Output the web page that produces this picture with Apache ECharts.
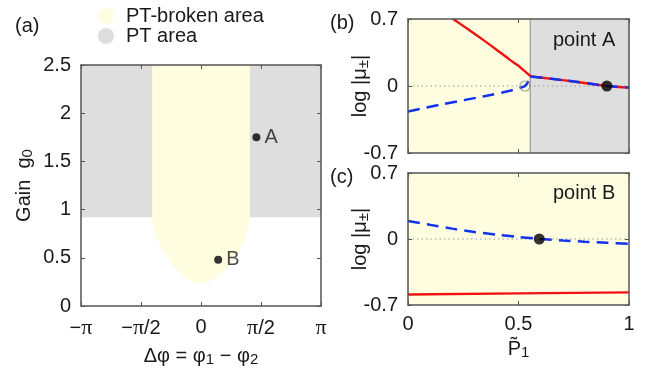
<!DOCTYPE html>
<html>
<head>
<meta charset="utf-8">
<script src="https://cdn.jsdelivr.net/npm/echarts@6/dist/echarts.min.js"></script>
<style>html,body{margin:0;padding:0;background:#fff}#c{width:647px;height:375px}</style>
</head>
<body>
<div id="c"></div>
<script>
// ---------- data ----------
const PI = Math.PI;
const phaseTickLabels = ['−π', '−π/2', '0', 'π/2', 'π'];
const gainMin = 0, gainMax = 2.5;
const ptGainThreshold = 0.92;
const brokenHalfWidth = 1.28;
const uBoundaryPhase = [-1.28, -1.255, -1.21, -1.01, -0.70, -0.43, -0.2, 0, 0.2, 0.43, 0.70, 1.01, 1.21, 1.255, 1.28];
const uBoundaryGain  = [0.92, 0.85, 0.754, 0.581, 0.408, 0.304, 0.248, 0.232, 0.248, 0.304, 0.408, 0.581, 0.754, 0.85, 0.92];
const pointA = [1.45, 1.75];
const pointB = [0.45, 0.48];

const exceptionalP = 0.553;
const branchPoint = [0.554, 0.10];
const bRedUpperP = [0.204, 0.27, 0.34, 0.402, 0.461, 0.497, 0.521, 0.538, 0.548];
const bRedUpperV = [0.70, 0.596, 0.482, 0.377, 0.273, 0.216, 0.169, 0.135, 0.115];
const bBlueLowerP = [0, 0.144, 0.34, 0.461, 0.505, 0.529, 0.543, 0.55];
const bBlueLowerV = [-0.266, -0.196, -0.109, -0.05, -0.022, 0, 0.04, 0.075];
const bMergedP = [0.65, 0.75, 0.85, 0.9, 1.0];
const bMergedV = [0.075, 0.047, 0.016, 0, -0.017];
const bOpenPoint = [0.529, 0];
const bDot = [0.9, 0];

const cBlueP = [0, 0.1, 0.2, 0.3, 0.4, 0.5, 0.6, 0.7, 0.8, 0.9, 1.0];
const cBlueV = [0.19, 0.15, 0.11, 0.075, 0.047, 0.022, 0.0, -0.016, -0.029, -0.04, -0.05];
const cRedP  = [0, 0.5, 1];
const cRedV  = [-0.588, -0.577, -0.566];
const cDot = [0.594, 0];

// ---------- styles ----------
const FONT = 'Liberation Sans';
const SERIF = 'Liberation Serif';
const YELLOW = '#fefde0', GRAY = '#dedede', RED = '#f01212', BLUE = '#1232ee';
const FRAME = '#555', TXT = '#1a1a1a';

const zip = (xs, ys) => xs.map((x, i) => [x, ys[i]]);
const uPts = zip(uBoundaryPhase.map(p => p / PI), uBoundaryGain);
const yellowPoly = [[-brokenHalfWidth / PI, gainMax]].concat(uPts, [[brokenHalfWidth / PI, gainMax]]);
const grayPoly = [[-1, ptGainThreshold], [1, ptGainThreshold], [1, gainMax], [-1, gainMax]];

function region(name, color, pts, xi, yi) {
  return {
    type: 'custom', name: name, coordinateSystem: 'cartesian2d', xAxisIndex: xi, yAxisIndex: yi,
    silent: true, z: 1, itemStyle: { color: color }, data: [pts[0]],
    renderItem: function (params, api) {
      return { type: 'polygon', shape: { points: pts.map(p => api.coord(p)) }, style: { fill: color } };
    }
  };
}
function rect(x0, x1, y0, y1) { return [[x0, y0], [x1, y0], [x1, y1], [x0, y1]]; }

const tickCommon = { inside: true, length: 4, lineStyle: { color: FRAME, width: 1 } };
const lineCommon = { show: true, onZero: false, lineStyle: { color: FRAME, width: 1.5 } };
const labelCommon = { color: TXT, fontSize: 20, fontFamily: FONT };

function xAx(grid, pos, min, max, interval, labels, extra, margin) {
  return Object.assign({
    type: 'value', gridIndex: grid, position: pos, min: min, max: max, interval: interval, z: 10,
    nameMoveOverlap: false,
    axisLine: lineCommon, axisTick: tickCommon, splitLine: { show: false },
    axisLabel: labels ? Object.assign({ margin: margin || 9, formatter: labels }, labelCommon) : { show: false }
  }, extra || {});
}
function yAx(grid, pos, min, max, interval, labels, extra) {
  return Object.assign({
    type: 'value', gridIndex: grid, position: pos, min: min, max: max, interval: interval, z: 10,
    nameMoveOverlap: false,
    axisLine: lineCommon, axisTick: tickCommon, splitLine: { show: false },
    axisLabel: labels ? Object.assign({ margin: 10, formatter: labels }, labelCommon) : { show: false }
  }, extra || {});
}
const subRich = {
  t: { fontSize: 20, fontFamily: FONT, color: TXT, lineHeight: 22 },
  s: { fontSize: 15, fontFamily: FONT, color: TXT, lineHeight: 8, verticalAlign: 'bottom' }
};
const logName = '{t|log |μ}{s|±}{t||}';
function lineS(xi, pts, color, width, type, z, smooth) {
  return {
    type: 'line', xAxisIndex: xi, yAxisIndex: xi, symbol: 'none', silent: true, z: z, smooth: smooth || false,
    lineStyle: { color: color, width: width, type: type || 'solid' }, data: pts
  };
}
const phaseFormatter = v => {
  const s = phaseTickLabels[Math.round((v + 1) * 2)];
  return s.split('π').map(part => part ? '{n|' + part + '}' : '').join('{p|π}');
};

const option = {
  animation: false,
  backgroundColor: '#fff',
  legend: {
    left: 93, top: 1, orient: 'vertical', itemGap: 0, itemWidth: 22, itemHeight: 16,
    icon: 'circle', selectedMode: false,
    textStyle: { fontSize: 20, fontFamily: FONT, color: TXT, lineHeight: 20, padding: [0, 0, 0, 4] },
    data: ['PT-broken area', 'PT area']
  },
  graphic: [
    { type: 'text', z: 100, left: 15, top: 16, style: { text: '(a)', font: '20px ' + FONT, fill: TXT } },
    { type: 'text', z: 100, left: 330, top: 13, style: { text: '(b)', font: '20px ' + FONT, fill: TXT } },
    { type: 'text', z: 100, left: 330, top: 167, style: { text: '(c)', font: '20px ' + FONT, fill: TXT } },
    { type: 'text', z: 100, left: 553, top: 30, style: { text: 'point A', font: '20px ' + FONT, fill: TXT } },
    { type: 'text', z: 100, left: 553, top: 183, style: { text: 'point B', font: '20px ' + FONT, fill: TXT } }
  ],
  grid: [
    { left: 81, top: 65, width: 240, height: 241 },
    { left: 408, top: 19, width: 221, height: 134 },
    { left: 408, top: 173, width: 221, height: 132 }
  ],
  xAxis: [
    xAx(0, 'bottom', -1, 1, 0.5, phaseFormatter, {
      name: '{t|Δφ = φ}{s|1}{t| − φ}{s|2}', nameLocation: 'middle', nameGap: 39,
      nameTextStyle: { rich: subRich }
    }, 11),
    xAx(0, 'top', -1, 1, 0.5, null),
    xAx(1, 'bottom', 0, 1, 0.5, null),
    xAx(1, 'top', 0, 1, 0.5, null),
    xAx(2, 'bottom', 0, 1, 0.5, v => String(v), {
      name: '{t|P\u0303}{s|1}', nameLocation: 'middle', nameGap: 33,
      nameTextStyle: { rich: subRich }
    }),
    xAx(2, 'top', 0, 1, 0.5, null)
  ],
  yAxis: [
    yAx(0, 'left', gainMin, gainMax, 0.5, v => String(v), {
      name: '{t|Gain  g}{s|0}', nameLocation: 'middle', nameGap: 46,
      nameTextStyle: { rich: subRich }
    }),
    yAx(0, 'right', gainMin, gainMax, 0.5, null),
    yAx(1, 'left', -0.7, 0.7, 0.7, v => String(v), {
      name: logName, nameLocation: 'middle', nameGap: 37, nameTextStyle: { rich: subRich }
    }),
    yAx(1, 'right', -0.7, 0.7, 0.7, null),
    yAx(2, 'left', -0.7, 0.7, 0.7, v => String(v), {
      name: logName, nameLocation: 'middle', nameGap: 37, nameTextStyle: { rich: subRich }
    }),
    yAx(2, 'right', -0.7, 0.7, 0.7, null)
  ],
  series: [
    region('PT area', GRAY, grayPoly, 0, 0),
    region('PT-broken area', YELLOW, yellowPoly, 0, 0),
    {
      type: 'scatter', xAxisIndex: 0, yAxisIndex: 0, symbolSize: 8, z: 5, silent: true,
      itemStyle: { color: '#000' },
      label: { show: true, position: 'right', distance: 4, formatter: p => p.name, color: TXT, fontSize: 20, fontFamily: FONT },
      data: [
        { name: 'A', value: [pointA[0] / PI, pointA[1]] },
        { name: 'B', value: [pointB[0] / PI, pointB[1]] }
      ]
    },
    region('b-yellow', YELLOW, rect(0, exceptionalP, -0.7, 0.7), 2, 2),
    region('b-gray', GRAY, rect(exceptionalP, 1, -0.7, 0.7), 2, 2),
    lineS(2, [[exceptionalP, -0.7], [exceptionalP, 0.7]], '#8a8a8a', 1, 'solid', 2),
    lineS(2, [[0, 0], [1, 0]], '#9a9a9a', 1.2, [1.5, 3], 2),
    lineS(2, zip(bRedUpperP, bRedUpperV).concat([branchPoint]), RED, 2.4, 'solid', 3, 0.3),
    lineS(2, [branchPoint].concat(zip(bMergedP, bMergedV)), RED, 2.4, 'solid', 3, 0.3),
    lineS(2, zip(bBlueLowerP, bBlueLowerV).concat([branchPoint]), BLUE, 2.5, [12, 7], 4, 0.3),
    lineS(2, [branchPoint].concat(zip(bMergedP, bMergedV)), BLUE, 2.5, [12, 7], 4, 0.3),
    {
      type: 'scatter', xAxisIndex: 2, yAxisIndex: 2, symbolSize: 10, silent: true, z: 5,
      itemStyle: { color: 'rgba(0,0,0,0)', borderColor: '#808080', borderWidth: 1.1 }, data: [bOpenPoint]
    },
    {
      type: 'scatter', xAxisIndex: 2, yAxisIndex: 2, symbolSize: 11, silent: true, z: 6,
      itemStyle: { color: '#000' }, data: [bDot]
    },
    region('c-yellow', YELLOW, rect(0, 1, -0.7, 0.7), 4, 4),
    lineS(4, [[0, 0], [1, 0]], '#9a9a9a', 1.2, [1.5, 3], 2),
    lineS(4, zip(cRedP, cRedV), RED, 2.4, 'solid', 3),
    lineS(4, zip(cBlueP, cBlueV), BLUE, 2.5, [12, 7], 4, 0.3),
    {
      type: 'scatter', xAxisIndex: 4, yAxisIndex: 4, symbolSize: 11, silent: true, z: 6,
      itemStyle: { color: '#000' }, data: [cDot]
    }
  ]
};
option.xAxis[0].axisLabel.rich = {
  n: { fontSize: 20, fontFamily: FONT, color: TXT },
  p: { fontSize: 22, fontFamily: SERIF, color: TXT }
};
const chart = echarts.init(document.getElementById('c'), null, { renderer: 'canvas' });
chart.setOption(option);
</script>
</body>
</html>
